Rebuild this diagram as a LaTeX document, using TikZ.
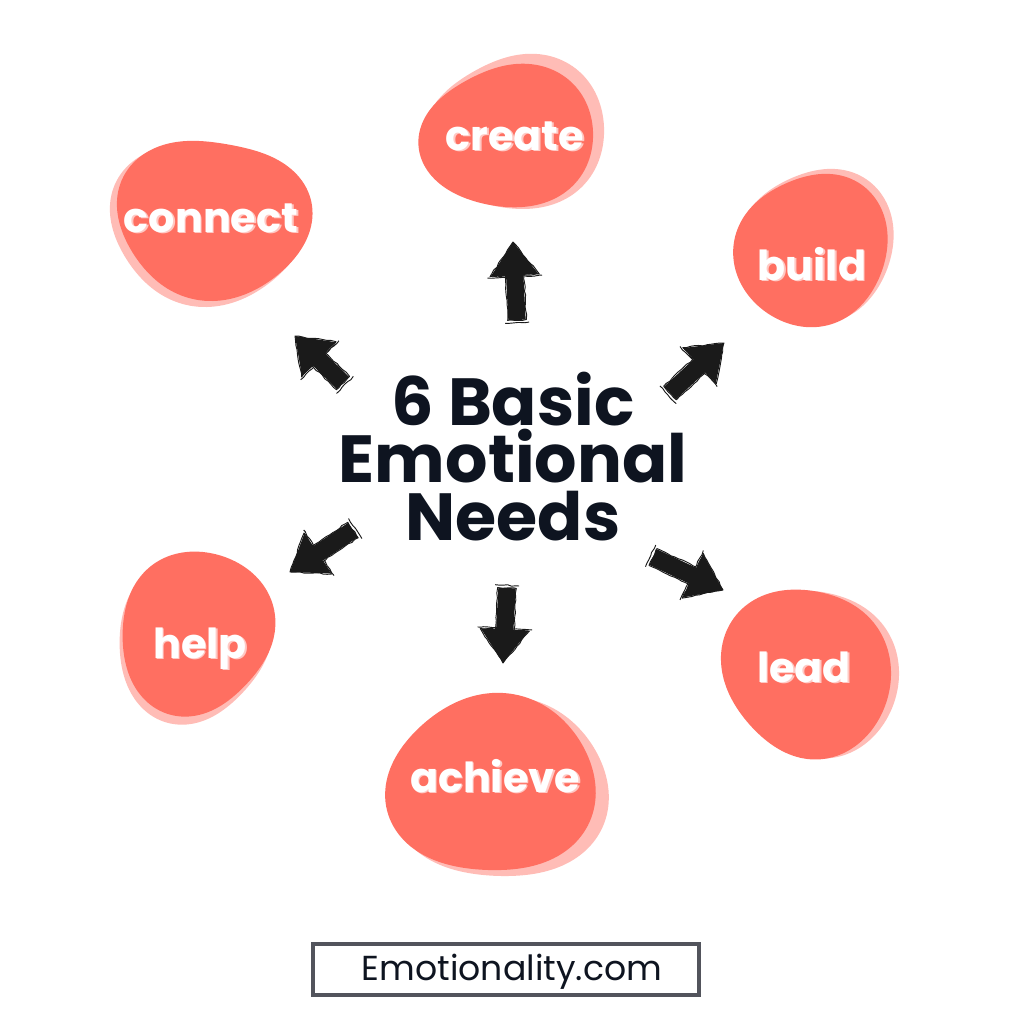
\documentclass[tikz,border=0pt]{standalone}
\usepackage{fontspec}
\setmainfont{Poppins}
\usetikzlibrary{calc,decorations.pathmorphing}
\definecolor{coral}{HTML}{FF6F61}
\definecolor{coralshadow}{HTML}{FFBCB6}
\definecolor{labelshadow}{HTML}{FFC9C4}
\definecolor{ink}{HTML}{0E1420}
\definecolor{framegray}{HTML}{52545C}
\definecolor{arrowink}{HTML}{1A1A1A}
\newcommand\blobfill[9]{%
  \fill[#1] plot[domain=0:355,samples=72,smooth cycle,variable=\t]
  ({#2+#4*(1+#6*cos(2*\t+#7)+#8*cos(3*\t+#9))*cos(\t)},
   {#3+#5*(1+#6*cos(2*\t+#7)+#8*cos(3*\t+#9))*sin(\t)});}
\newcommand\needlabel[3]{%
  \node[labeltxt] (#2) at (#1)
   {\rlap{\hspace{1.3pt}\raisebox{-1.3pt}{\color{labelshadow}#3}}\color{white}#3};}
\newcommand\skarrow[3]{%
  \coordinate (#1t) at #2; \coordinate (#1h) at #3;
  \coordinate (#1b) at ($(#1h)!25pt!(#1t)$);
  \fill[arrowink] ($(#1t)!6.5pt!90:(#1h)$) -- ($(#1b)!6.5pt!90:(#1h)$) -- ($(#1b)!18pt!90:(#1h)$)
     -- (#1h) -- ($(#1b)!18pt!-90:(#1h)$) -- ($(#1b)!6.5pt!-90:(#1h)$) -- ($(#1t)!6.5pt!-90:(#1h)$) -- cycle;
  \draw[sketch] ($(#1t)!7pt!90:(#1h)$) -- ($(#1b)!7pt!90:(#1h)$) -- ($(#1b)!18.5pt!90:(#1h)$)
     -- (#1h) -- ($(#1b)!18.5pt!-90:(#1h)$) -- ($(#1b)!7pt!-90:(#1h)$) -- ($(#1t)!7pt!-90:(#1h)$) -- cycle;
  \draw[sketch] ($($(#1t)!-2pt!(#1h)$)!9pt!90:(#1h)$) -- ($($(#1t)!-2pt!(#1h)$)!9pt!-90:(#1h)$);
  \draw[sketch] ($($(#1b)!1pt!(#1t)$)!20.5pt!90:(#1h)$) -- ($($(#1b)!1pt!(#1t)$)!20.5pt!-90:(#1h)$);}
\tikzset{
  labeltxt/.style={font=\fontsize{31}{35}\selectfont\bfseries,anchor=base,inner sep=0pt},
  titletxt/.style={font=\fontsize{50}{43}\selectfont\bfseries,text=ink,align=center,inner sep=0pt},
  sketch/.style={draw=arrowink,line width=0.7pt,line join=round,decorate,
    decoration={random steps,segment length=3pt,amplitude=0.5pt}},
}
\begin{document}
\begin{tikzpicture}[x=0.75pt,y=-0.75pt]
\fill[white] (0,0) rectangle (1024,1024);
\useasboundingbox (0,0) rectangle (1024,1024);
% blobs: shadow then main
\blobfill{coralshadow}{517}{133}{87}{80}{0.05}{40}{0.04}{200}
\blobfill{coral}{509}{137}{84}{74}{0.05}{40}{0.04}{200}
\blobfill{coralshadow}{207}{223}{94}{84}{0.05}{-30}{0.05}{60}
\blobfill{coral}{213}{218}{93}{83}{0.05}{-30}{0.05}{60}
\blobfill{coralshadow}{817}{246}{76}{79}{0.05}{60}{0.03}{150}
\blobfill{coral}{812}{250}{75}{78}{0.05}{60}{0.03}{150}
\blobfill{coralshadow}{193}{639}{78}{81}{0.05}{120}{0.04}{30}
\blobfill{coral}{196}{632}{78}{80}{0.05}{120}{0.04}{30}
\blobfill{coralshadow}{502}{790}{104}{93}{0.04}{20}{0.04}{250}
\blobfill{coral}{492}{785}{101}{92}{0.04}{20}{0.04}{250}
\blobfill{coralshadow}{815}{672}{82}{86}{0.06}{-60}{0.03}{100}
\blobfill{coral}{807}{672}{82}{87}{0.06}{-60}{0.03}{100}
% labels
\coordinate (pcreate) at (515,150);
\coordinate (pconnect) at (211,232);
\coordinate (pbuild) at (812,280);
\coordinate (phelp) at (200,658);
\coordinate (pachieve) at (495,792);
\coordinate (plead) at (804,682);
\needlabel{pcreate}{create}{create}
\needlabel{pconnect}{connect}{connect}
\needlabel{pbuild}{build}{build}
\needlabel{phelp}{help}{help}
\needlabel{pachieve}{achieve}{achieve}
\needlabel{plead}{lead}{lead}
% title
\node[titletxt,anchor=base] (title) at (513,540) {6 Basic\\Emotional\\Needs};
% arrows
\skarrow{aup}{(517,320)}{(513,242)}
\skarrow{aul}{(343,383)}{(295,336)}
\skarrow{aur}{(670,393)}{(724,343)}
\skarrow{adl}{(353,530)}{(290,572)}
\skarrow{adr}{(653,557)}{(723,590)}
\skarrow{adn}{(507,588)}{(503,663)}
% footer
\node[draw=framegray,line width=3pt,minimum width=290pt,minimum height=38pt,inner sep=0pt] (footer) at (506,969.5) {};
\node[font=\fontsize{26}{30}\selectfont,text=ink,anchor=base,inner sep=0pt] (site) at (512,980) {Emotionality.com};
\end{tikzpicture}
\end{document}
